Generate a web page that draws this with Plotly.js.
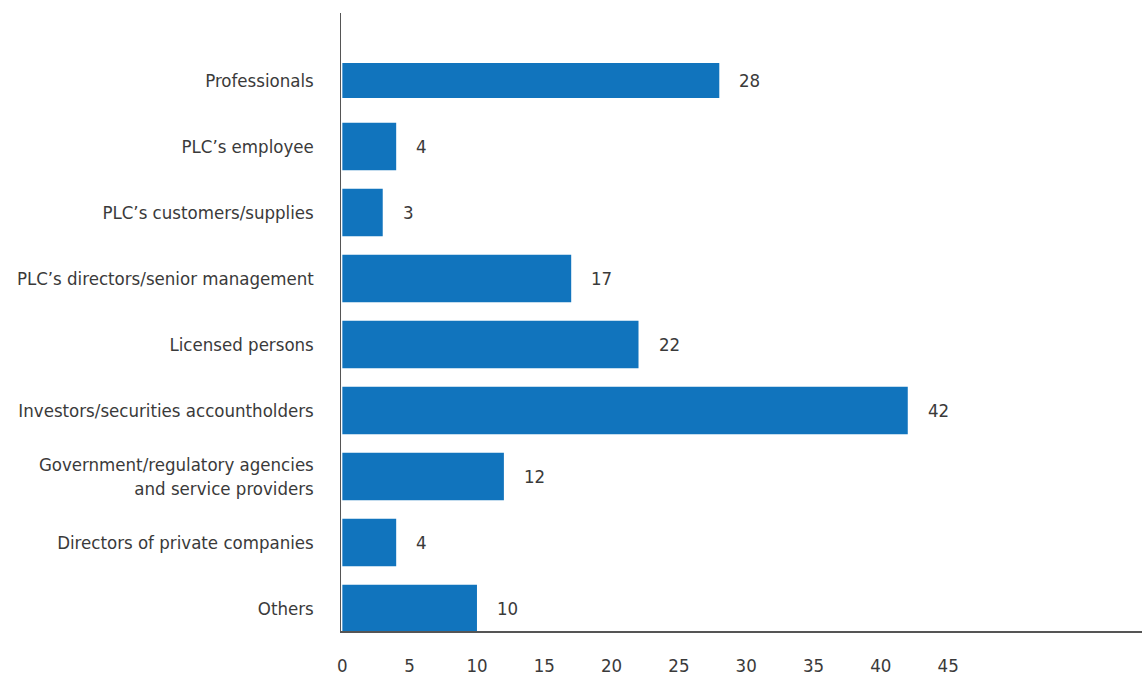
<!DOCTYPE html>
<html>
<head>
<meta charset="utf-8">
<script src="https://cdn.plot.ly/plotly-3.0.1.min.js"></script>
<style>
  html, body { margin: 0; padding: 0; background: #ffffff; }
  #chart { width: 1142px; height: 678px; }
</style>
</head>
<body>
<div id="chart"></div>
<script>
const categories = [
  "Professionals",
  "PLC\u2019s employee",
  "PLC\u2019s customers/supplies",
  "PLC\u2019s directors/senior management",
  "Licensed persons",
  "Investors/securities accountholders",
  "Government/regulatory agencies<br>and service providers",
  "Directors of private companies",
  "Others"
];
const values = [28, 4, 3, 17, 22, 42, 12, 4, 10];
const xTickValues = [0, 5, 10, 15, 20, 25, 30, 35, 40, 45];

const FONT = "'DejaVu Sans Condensed', 'Liberation Sans', sans-serif";
const TEXT_COLOR = "#3a3a3a";
const BAR_COLOR = "#1174bd";
const FS = 18.5;

const trace = {
  type: "bar",
  orientation: "h",
  y: categories,
  x: values,
  width: categories.map((c, i) => i === 0 ? 0.53 : 0.72),
  marker: { color: BAR_COLOR, line: { width: 0 } },
  hoverinfo: "x+y",
  cliponaxis: false
};

const annotations = categories.map((c, i) => ({
  x: values[i],
  y: c,
  xref: "x",
  yref: "y",
  text: String(values[i]),
  showarrow: false,
  xanchor: "left",
  yanchor: "middle",
  xshift: 18,
  font: { family: FONT, size: FS, color: TEXT_COLOR }
}));

const layout = {
  width: 1142,
  height: 678,
  paper_bgcolor: "#ffffff",
  plot_bgcolor: "#ffffff",
  margin: { l: 341, r: 0, t: 13, b: 47, pad: 0 },
  showlegend: false,
  font: { family: FONT, size: FS, color: TEXT_COLOR },
  xaxis: {
    range: [-0.1, 59.4],
    tickmode: "array",
    tickvals: xTickValues,
    ticktext: xTickValues.map(String),
    showgrid: false,
    zeroline: false,
    showline: true,
    linecolor: "#555555",
    linewidth: 1.5,
    ticks: "",
    ticklabelstandoff: 17,
    tickfont: { family: FONT, size: FS, color: TEXT_COLOR },
    fixedrange: true
  },
  yaxis: {
    type: "category",
    categoryorder: "array",
    categoryarray: categories,
    range: [8.34, -1.023],
    showgrid: false,
    zeroline: false,
    showline: true,
    linecolor: "#555555",
    linewidth: 1.5,
    ticks: "",
    ticklabelstandoff: 22,
    tickfont: { family: FONT, size: FS, color: TEXT_COLOR },
    fixedrange: true
  },
  annotations: annotations
};

Plotly.newPlot("chart", [trace], layout, { displayModeBar: false, staticPlot: true });
</script>
</body>
</html>
